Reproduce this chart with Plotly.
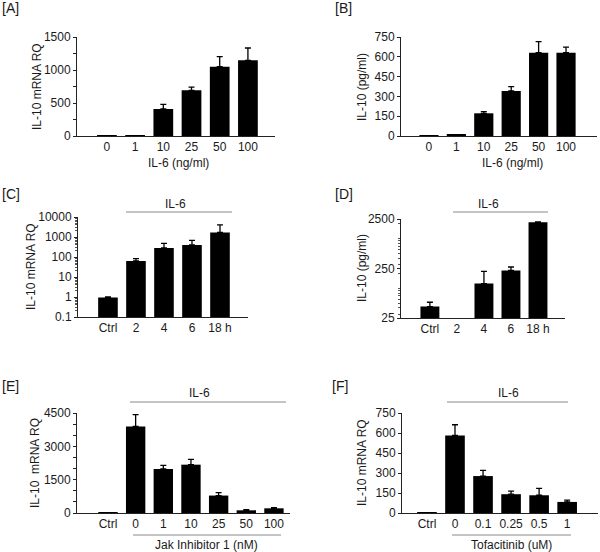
import plotly.graph_objects as go

# ---------------- data ----------------
a_cats = ["0", "1", "10", "25", "50", "100"]
a_vals = [3, 5, 409, 692, 1050, 1146]
a_err = [0, 0, 71, 50, 152, 187]

b_cats = ["0", "1", "10", "25", "50", "100"]
b_vals = [2, 8, 172, 341, 631, 631]
b_err = [0, 0, 12, 33, 84, 43]

c_cats = ["Ctrl", "2", "4", "6", "18 h"]
c_vals = [0.95, 63, 282, 398, 1700]
c_err = [0.05, 20, 200, 282, 2300]

d_cats = ["Ctrl", "2", "4", "6", "18 h"]
d_vals = [42.5, None, 124, 228, 2150]
d_err = [9.5, 0, 94, 40, 30]

e_cats = ["Ctrl", "0", "1", "10", "25", "50", "100"]
e_vals = [20, 3897, 1979, 2175, 785, 121, 211]
e_err = [0, 529, 166, 242, 136, 29, 29]

f_cats = ["Ctrl", "0", "0.1", "0.25", "0.5", "1"]
f_vals = [3, 582, 277, 141, 133, 83]
f_err = [0, 80, 43, 23, 51, 13]

W, H = 600, 552
FONT = "Liberation Sans, Arial, sans-serif"
TXT = "#1a1a1a"


def px(x):
    return x / W


def py(y):
    return 1 - y / H


fig = go.Figure()

panels = [
    (a_cats, a_vals, a_err, (77, 275), (37, 136), [-1.06, 5.96], "linear", [0, 1500]),
    (b_cats, b_vals, b_err, (401, 597), (37, 136), [-1.02, 6.13], "linear", [0, 750]),
    (c_cats, c_vals, c_err, (78, 248), (217, 317), [-1.07, 5.0], "log", [-1, 4]),
    (d_cats, d_vals, d_err, (401, 565), (219, 318), [-1.07, 5.0], "log", [1.39794, 3.39794]),
    (e_cats, e_vals, e_err, (77, 290), (413, 513), [-1.12, 6.58], "linear", [0, 4500]),
    (f_cats, f_vals, f_err, (402, 598), (413, 513), [-0.89, 6.1], "linear", [0, 750]),
]

layout = {}
for i, (cats, vals, err, xd, yd, xr, yt, yr) in enumerate(panels):
    n = i + 1
    xa = "x" if n == 1 else f"x{n}"
    ya = "y" if n == 1 else f"y{n}"
    fig.add_trace(go.Bar(
        x=list(range(len(cats))), y=vals, width=0.7,
        marker=dict(color="black", line=dict(width=0)),
        error_y=dict(type="data", symmetric=False, array=err,
                     arrayminus=[0] * len(err), color="black",
                     thickness=1.3, width=3),
        xaxis=xa, yaxis=ya, showlegend=False,
    ))
    xkey = "xaxis" if n == 1 else f"xaxis{n}"
    ykey = "yaxis" if n == 1 else f"yaxis{n}"
    layout[xkey] = dict(
        domain=[px(xd[0]), px(xd[1])], anchor=ya, range=xr,
        tickmode="array", tickvals=list(range(len(cats))), ticktext=cats,
        showline=True, linecolor="#222", linewidth=1, ticks="",
        showgrid=False, zeroline=False, automargin=False,
        tickfont=dict(size=12, family=FONT, color=TXT), fixedrange=True,
    )
    yax = dict(
        domain=[py(yd[1]), py(yd[0])], anchor=xa, type=yt, range=yr,
        showline=True, linecolor="#222", linewidth=1,
        ticks="outside", ticklen=3, tickcolor="#222", tickwidth=1,
        showgrid=False, zeroline=False, automargin=False,
        tickfont=dict(size=12, family=FONT, color=TXT), fixedrange=True,
    )
    layout[ykey] = yax

layout["yaxis"].update(tickmode="linear", tick0=0, dtick=500,
                       minor=dict(dtick=250, ticks="outside", ticklen=3, tickcolor="#222"))
layout["yaxis2"].update(tickmode="linear", tick0=0, dtick=150)
layout["yaxis3"].update(tickmode="array", tickvals=[0.1, 1, 10, 100, 1000, 10000],
                        ticktext=["0.1", "1", "10", "100", "1000", "10000"],
                        minor=dict(ticks="outside", ticklen=2, tickcolor="#555", dtick="D1"))
layout["yaxis4"].update(tickmode="array", tickvals=[25, 250, 2500],
                        ticktext=["25", "250", "2500"],
                        minor=dict(ticks="outside", ticklen=2, tickcolor="#555", dtick="D1"))
layout["yaxis5"].update(tickmode="linear", tick0=0, dtick=1500,
                        minor=dict(dtick=500, ticks="outside", ticklen=3, tickcolor="#222"))
layout["yaxis6"].update(tickmode="linear", tick0=0, dtick=150)

annotations = []
shapes = []


def text(x, y, s, size=12, angle=0, xanchor="center"):
    annotations.append(dict(x=px(x), y=py(y), xref="paper", yref="paper",
                            text=s, showarrow=False, textangle=angle,
                            xanchor=xanchor, yanchor="middle",
                            font=dict(size=size, family=FONT, color=TXT)))


def hline(x0, x1, y, color="#8a8a8a"):
    shapes.append(dict(type="line", xref="paper", yref="paper",
                       x0=px(x0), x1=px(x1), y0=py(y), y1=py(y),
                       line=dict(color=color, width=1)))


# panel labels
text(0, 8, "[A]", 14, xanchor="left")
text(333, 8, "[B]", 14, xanchor="left")
text(0, 194, "[C]", 14, xanchor="left")
text(333, 194, "[D]", 14, xanchor="left")
text(0, 386, "[E]", 14, xanchor="left")
text(330, 386, "[F]", 14, xanchor="left")

# y titles
text(37, 87, "IL-10 mRNA RQ", 12, -90)
text(362, 87, "IL-10 (pg/ml)", 12, -90)
text(31, 267, "IL-10 mRNA RQ", 12, -90)
text(362, 268, "IL-10 (pg/ml)", 12, -90)
text(35, 463, "IL-10  mRNA RQ", 12, -90)
text(362, 463, "IL-10 mRNA RQ", 12, -90)

# x titles
text(178, 163, "IL-6 (ng/ml)", 12)
text(512, 163, "IL-6 (ng/ml)", 12)
text(207, 545, "Jak Inhibitor 1 (nM)", 12)
text(511, 545, "Tofacitinib (uM)", 12)

# IL-6 bracket lines and labels
text(175, 204, "IL-6", 12)
hline(126, 232, 212)
text(489, 204, "IL-6", 12)
hline(453, 548, 212)
text(199, 393, "IL-6", 12)
hline(130, 286, 402)
text(508, 393, "IL-6", 12)
hline(447, 568, 402)

# lines under treatment labels
hline(133, 281, 535)
hline(452, 571, 535)

fig.update_layout(
    width=W, height=H, margin=dict(l=0, r=0, t=0, b=0, pad=0), autosize=False,
    paper_bgcolor="white", plot_bgcolor="white",
    bargap=0.3, annotations=annotations, shapes=shapes,
    font=dict(family=FONT, color=TXT), **layout,
)

fig.write_html("out.html", config={"displayModeBar": False},
               post_script="document.body.style.margin='0px';document.body.style.padding='0px';")
